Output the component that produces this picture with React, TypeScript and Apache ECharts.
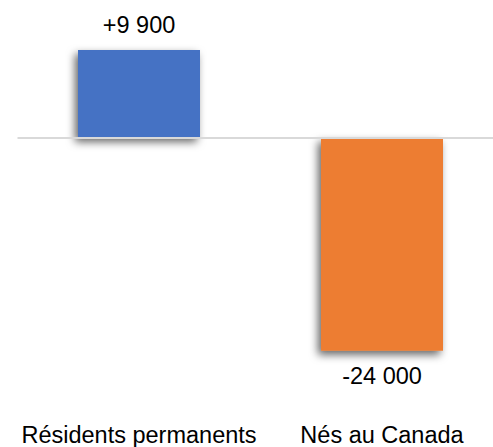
import React, { useEffect, useRef } from "react";
import * as echarts from "echarts";

const categories = ["Résidents permanents", "Nés au Canada"];
const values = [9900, -24000];
const barColors = ["#4472C4", "#ED7D31"];

function fmt(v: number): string {
  const s = Math.abs(v).toString().replace(/\B(?=(\d{3})+(?!\d))/g, " ");
  return (v > 0 ? "+" : "-") + s;
}

export default function App() {
  const ref = useRef<HTMLDivElement>(null);
  useEffect(() => {
    if (!ref.current) return;
    const chart = echarts.init(ref.current, undefined, { renderer: "svg" });
    const font = "Liberation Sans, Arial, sans-serif";
    chart.setOption({
      animation: false,
      grid: { left: 17.5, top: 49.2, width: 486, height: 355.2 },
      xAxis: {
        type: "category",
        data: categories,
        axisLine: { show: false, onZero: false },
        axisTick: { show: false },
        axisLabel: { color: "#000", fontSize: 23.5, fontFamily: font, margin: 19, interval: 0 },
      },
      yAxis: {
        type: "value",
        min: -30000,
        max: 10000,
        show: false,
        splitLine: { show: false },
      },
      series: [
        {
          type: "bar",
          barWidth: 122,
          data: values.map((v, i) => ({
            value: v,
            itemStyle: {
              color: barColors[i],
              shadowColor: "rgba(0,0,0,0.6)",
              shadowBlur: 8,
              shadowOffsetX: -3,
              shadowOffsetY: 4,
            },
            label: {
              show: true,
              position: v >= 0 ? "top" : "bottom",
              distance: v >= 0 ? 13 : 13,
              formatter: () => fmt(v),
              color: "#000",
              fontSize: 23.5,
              fontFamily: font,
            },
          })),
          markLine: {
            silent: true,
            symbol: "none",
            label: { show: false },
            lineStyle: { color: "#d9d9d9", type: "solid", width: 2 },
            data: [{ yAxis: 0 }],
          },
        },
      ],
    });
    return () => chart.dispose();
  }, []);
  return (
    <div style={{ position: "absolute", left: 0, top: 0, width: 493, height: 447, overflow: "hidden", background: "#fff" }}>
      <div ref={ref} style={{ width: 510, height: 447 }} />
    </div>
  );
}
